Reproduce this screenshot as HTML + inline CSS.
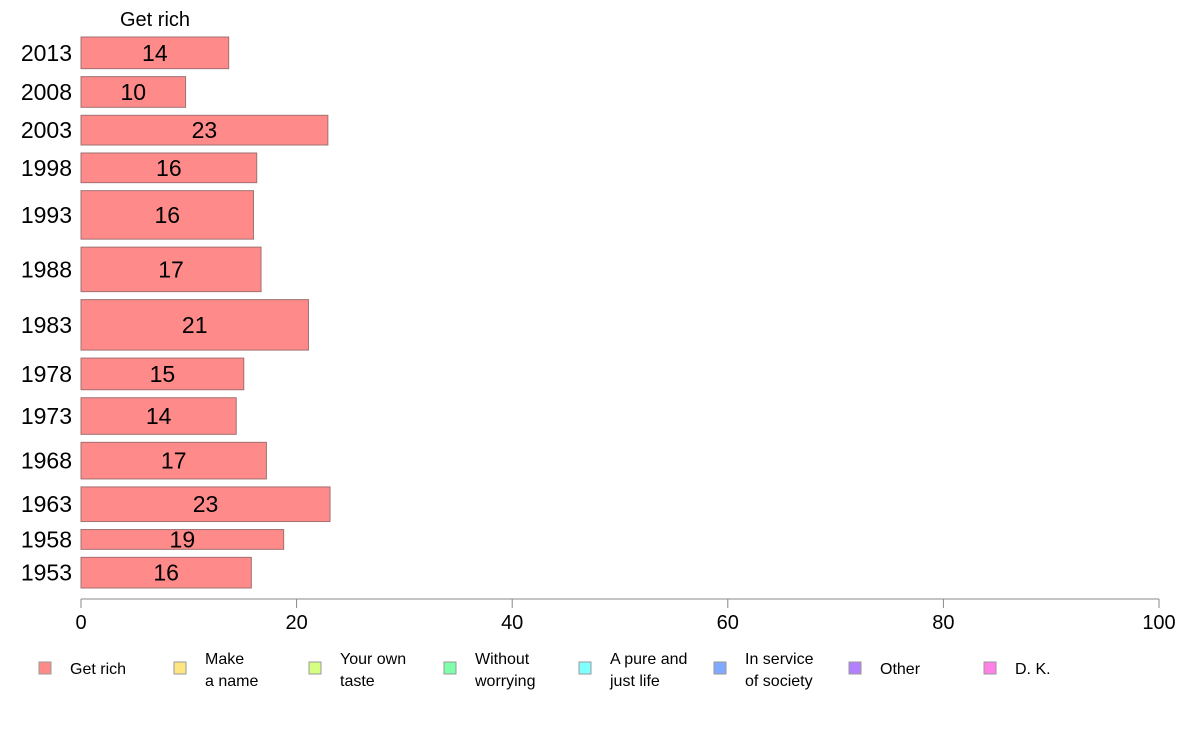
<!DOCTYPE html>
<html><head><meta charset="utf-8"><style>
body{margin:0;background:#fff;font-family:"Liberation Sans",sans-serif}
</style></head><body>
<svg id="chart" width="1188" height="736" style="display:block">
<text x="155" y="26" font-size="20" text-anchor="middle">Get rich</text>
<g id="bars"></g>
<g id="axis"></g>
<g id="legend"></g>
</svg>
<script>
const years = ["2013","2008","2003","1998","1993","1988","1983","1978","1973","1968","1963","1958","1953"];
const values = [13.7,9.7,22.9,16.3,16.0,16.7,21.1,15.1,14.4,17.2,23.1,18.8,15.8];
const sampleWeights = [32,31,30,30,49,45,51,32,37,37,35,20,31];
const xTicks = [0,20,40,60,80,100];
const legendLabels = [["Get rich"],["Make","a name"],["Your own","taste"],["Without","worrying"],["A pure and","just life"],["In service","of society"],["Other"],["D. K."]];
const legendColors = ["#ff8a8a","#ffe680","#d4ff80","#80ffaa","#80ffff","#80aaff","#b380ff","#ff80e6"];

const NS="http://www.w3.org/2000/svg";
const x0=81,x1=1159,plotTop=37,plotBottom=588,gap=8;
const xs=v=>x0+(v/100)*(x1-x0);
const totalW=sampleWeights.reduce((a,b)=>a+b,0);
const kScale=(plotBottom-plotTop-gap*(years.length-1))/totalW;
function mk(tag,attrs,parent){const e=document.createElementNS(NS,tag);for(const a in attrs)e.setAttribute(a,attrs[a]);parent.appendChild(e);return e;}
const gb=document.getElementById('bars');
let yPos=plotTop;
years.forEach((yr,i)=>{
  const h=sampleWeights[i]*kScale;
  const r=mk('rect',{x:x0,y:yPos,width:xs(values[i])-x0,height:h,fill:"#ff8a8a",stroke:"#a07070","stroke-width":1},gb);
  
  
  const t=mk('text',{x:(x0+xs(values[i]))/2,y:yPos+h/2+8,"font-size":23,"text-anchor":"middle"},gb);
  t.textContent=Math.round(values[i]);
  
  
  const l=mk('text',{x:72,y:yPos+h/2+8,"font-size":23,"text-anchor":"end"},gb);
  l.textContent=yr;
  
  
  yPos+=h+gap;
});
const ga=document.getElementById('axis');
const al=mk('line',{x1:x0,x2:x1,y1:599,y2:599,stroke:"#888","stroke-width":1},ga);


xTicks.forEach(v=>{
  const tl=mk('line',{x1:xs(v),x2:xs(v),y1:599,y2:608,stroke:"#888"},ga);
  
  
  const tt=mk('text',{x:xs(v),y:629,"font-size":20,"text-anchor":"middle"},ga);
  tt.textContent=v;
  
  
});
const gl=document.getElementById('legend');
legendLabels.forEach((lab,i)=>{
  const lx=39+i*135;
  const g=mk('g',{},gl);
  
  
  mk('rect',{x:lx,y:662,width:12,height:12,fill:legendColors[i],stroke:"#999"},g);
  const t=mk('text',{x:lx+31,"font-size":16},g);
  if(lab.length===1){t.setAttribute('y',674);t.textContent=lab[0];}
  else lab.forEach((s,j)=>{const ts=mk('tspan',{x:lx+31,y:664+j*22},t);ts.textContent=s;});
});
</script>
</body></html>
